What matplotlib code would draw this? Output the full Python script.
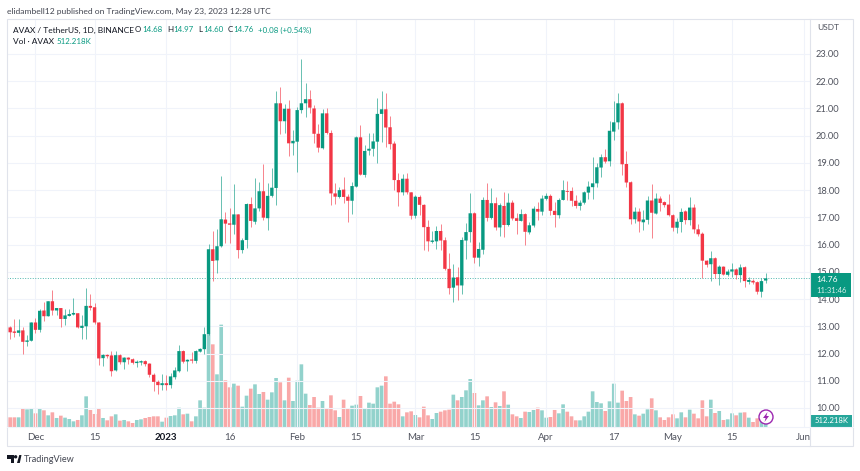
import matplotlib
matplotlib.use('Agg')
import matplotlib.pyplot as plt
import matplotlib.dates as mdates
from matplotlib.patches import Rectangle, Circle, Polygon
import numpy as np
import pandas as pd

plt.rcParams['font.family'] = ['Lato', 'DejaVu Sans']

opens = [12.96,12.81,12.76,12.85,12.43,12.47,13.14,12.87,13.58,13.37,
         13.92,13.58,13.67,13.27,13.38,13.43,13.48,12.94,13.0,13.75,
         13.7,13.14,11.83,11.95,11.93,11.38,11.94,11.68,11.85,11.79,
         11.65,11.67,11.72,11.63,11.22,10.96,10.84,10.91,10.84,11.13,
         11.35,12.09,11.71,11.78,11.73,12.07,12.16,12.71,15.83,15.42,
         15.94,16.92,16.78,16.73,17.11,15.8,16.17,17.49,16.84,17.33,
         17.96,16.97,17.79,18.08,21.19,20.53,20.99,19.72,19.78,20.94,
         21.19,21.34,21.0,20.07,19.54,20.82,20.1,17.88,17.75,18.02,
         17.76,17.61,18.13,19.94,18.56,19.45,19.52,19.78,20.8,20.97,
         20.31,19.71,18.37,17.92,18.42,17.92,17.06,17.75,17.46,16.65,
         16.1,16.12,16.5,16.16,15.11,14.42,14.8,14.5,16.15,16.46,
         17.15,15.52,15.81,17.64,16.98,17.52,16.63,17.42,16.72,17.54,
         16.97,16.87,17.12,16.45,16.7,17.31,17.21,17.68,17.79,17.24,
         17.08,17.64,17.97,17.97,17.61,17.42,17.54,17.91,18.11,18.25,
         18.83,19.21,19.06,20.15,20.49,21.19,18.96,18.29,16.93,17.21,
         16.82,16.91,17.62,17.14,17.69,17.56,17.47,17.08,16.62,16.83,
         17.22,16.9,17.36,16.56,16.4,15.41,15.28,15.5,14.92,15.19,
         14.89,15.01,15.09,14.88,15.17,14.63,14.67,14.62,14.27,14.68]

closes = [12.78,12.76,12.85,12.43,12.48,13.14,12.87,13.57,13.37,13.92,
          13.58,13.67,13.27,13.4,13.45,13.49,12.96,13.02,13.75,13.68,
          13.14,11.82,11.95,11.9,11.35,11.94,11.68,11.85,11.78,11.66,
          11.7,11.72,11.61,11.22,10.96,10.84,10.91,10.84,11.16,11.38,
          12.09,11.7,11.77,11.74,12.09,12.17,12.71,15.83,15.4,15.94,
          16.93,16.77,16.73,17.11,15.8,16.16,17.49,16.87,17.33,17.96,
          16.99,17.79,18.09,21.19,20.53,20.99,19.72,19.81,20.94,21.19,
          21.34,21.03,20.07,19.56,20.82,20.1,17.88,17.76,18.0,17.75,
          17.61,18.15,19.94,18.57,19.44,19.52,19.79,20.8,20.97,20.3,
          19.69,18.37,17.92,18.42,17.92,17.06,17.76,17.46,16.64,16.12,
          16.15,16.5,16.15,15.11,14.4,14.79,14.5,16.17,16.46,17.15,
          15.52,15.84,17.64,16.98,17.52,16.63,17.45,16.72,17.54,16.96,
          16.87,17.12,16.47,16.71,17.32,17.21,17.69,17.79,17.24,17.09,
          17.64,18.0,17.94,17.61,17.42,17.54,17.92,18.13,18.25,18.84,
          19.21,19.05,20.18,20.49,21.19,18.95,18.28,16.93,17.21,16.85,
          16.92,17.62,17.17,17.69,17.53,17.45,17.08,16.62,16.84,17.2,
          16.9,17.36,16.56,16.38,15.41,15.26,15.5,14.92,15.19,14.9,
          15.01,15.09,14.88,15.16,14.66,14.7,14.61,14.27,14.66,14.76]

highs = [13.0,13.25,13.26,12.98,12.67,13.16,13.32,13.65,13.9,13.92,
         14.33,13.69,13.69,13.62,13.62,14.05,13.49,13.41,14.4,14.19,
         13.87,13.15,12.0,12.0,12.1,12.1,12.0,11.88,11.88,11.82,
         11.78,11.78,11.78,11.66,11.29,11.02,11.23,11.2,11.27,11.51,
         12.3,12.12,11.81,12.06,12.12,12.21,12.98,16.04,16.49,16.59,
         18.53,17.19,17.33,18.21,17.14,16.25,17.54,17.76,18.46,18.31,
         18.96,18.28,18.8,21.65,21.8,21.16,21.31,20.21,21.07,22.8,
         21.95,21.68,21.13,20.43,20.97,21.03,20.21,18.25,18.1,18.5,
         17.86,18.31,19.99,20.39,19.66,20.09,20.09,21.37,21.65,21.56,
         20.72,19.81,18.62,18.59,18.64,17.93,17.83,17.82,17.49,16.9,
         16.5,16.68,16.76,16.27,15.68,15.28,15.19,16.27,16.79,17.91,
         17.18,16.08,17.76,18.25,18.07,17.76,17.54,17.92,17.89,17.64,
         17.15,17.3,17.15,16.82,17.4,17.58,17.83,17.89,17.86,17.58,
         17.7,18.38,18.35,18.13,17.83,17.62,17.97,18.32,19.21,18.99,
         19.33,19.52,20.54,21.28,21.56,21.22,19.44,18.32,17.37,17.34,
         17.27,17.78,18.24,17.91,17.78,17.61,17.85,17.12,16.96,17.35,
         17.27,17.73,17.49,16.74,16.48,15.45,15.76,15.53,15.25,15.21,
         15.09,15.34,15.15,15.28,15.21,14.82,14.73,14.65,14.79,14.97]

lows = [12.52,12.61,12.64,11.98,12.27,12.45,12.76,12.8,13.2,13.36,
        13.41,13.43,12.98,13.04,13.37,13.41,12.92,12.54,12.54,13.59,
        13.08,11.57,11.54,11.85,11.17,11.35,11.63,11.45,11.63,11.63,
        11.51,11.57,11.54,11.14,10.63,10.53,10.65,10.65,10.72,11.05,
        11.33,11.67,11.35,11.66,11.67,12.06,12.0,12.67,14.66,14.94,
        15.9,16.05,16.07,16.4,15.49,15.71,15.86,16.66,16.76,17.23,
        16.9,16.53,17.76,17.44,20.05,20.11,19.25,19.29,18.68,20.82,
        20.7,20.85,19.72,19.41,19.5,20.08,17.46,17.48,17.7,17.54,
        16.84,17.11,18.1,18.54,18.5,19.28,19.25,19.01,19.78,19.57,
        19.51,18.0,17.43,17.81,17.85,16.93,16.99,17.1,15.8,15.78,
        16.05,15.83,15.8,15.07,14.19,13.91,13.95,14.19,15.46,16.11,
        15.34,15.23,15.65,16.87,16.93,16.52,16.32,16.27,16.7,16.91,
        16.39,16.85,15.99,16.38,16.66,16.91,17.07,17.62,17.07,16.66,
        16.99,17.62,17.62,17.42,17.34,17.28,17.49,17.68,17.69,18.13,
        18.47,18.99,18.87,19.85,20.24,18.56,18.13,16.74,16.79,16.48,
        16.53,16.74,16.26,17.11,17.23,17.39,17.05,16.49,16.41,16.47,
        16.74,16.71,16.43,16.31,14.79,15.18,14.67,14.76,14.51,14.88,
        14.84,14.82,14.72,14.63,14.43,14.57,14.56,14.17,14.08,14.6]

# volume in thousands of AVAX
volumes = [826,826,826,1596,1510,1568,1168,1568,1425,998,
           1254,770,969,798,684,485,599,998,2622,1454,
           1112,1568,770,570,912,1083,542,599,485,342,
           599,656,770,855,912,912,456,798,940,998,
           1653,1083,1140,485,912,2280,1653,7923,7068,4503,
           8750,3990,3392,3705,3534,1739,2679,3278,3648,2822,
           2993,2337,2964,4190,3819,2280,4218,2223,3962,5358,
           2850,1881,2565,1653,2223,1568,2708,1425,855,2337,
           1596,1824,1910,2651,1596,2081,1995,3392,3534,4332,
           1995,2166,1938,912,1254,1340,1026,827,1739,998,
           684,1197,1311,1425,1482,2765,2280,2565,3135,4104,
           2907,1853,2280,2622,1710,2109,1796,3050,1910,1083,
           912,770,1311,1283,1454,1653,1425,798,855,1454,
           1169,1938,1311,912,570,570,912,1311,3050,2138,
           2024,1368,2195,3705,2081,3107,2223,2565,1083,969,
           1140,1511,2451,1425,827,599,827,1083,741,1254,
           827,1482,1140,741,2280,912,2337,1197,1368,599,
           656,1169,998,1226,1254,798,428,741,570,512]

first_day = '2022-11-25'
price_ticks = [10, 11, 12, 13, 14, 15, 16, 17, 18, 19, 20, 21, 22, 23]
time_ticks = ['2022-12-01', '2022-12-15', '2023-01-01', '2023-01-16', '2023-02-01', '2023-02-15',
              '2023-03-01', '2023-03-15', '2023-04-01', '2023-04-17', '2023-05-01', '2023-05-15', '2023-06-01']
time_labels = ['Dec', '15', '2023', '16', 'Feb', '15', 'Mar', '15', 'Apr', '17', 'May', '15', 'Jun']
last_close = 14.76

GREEN = '#089981'
RED = '#f23645'
VOL_GREEN = '#92d2cc'
VOL_RED = '#f9a8a8'
TEXT = '#131722'
GRID = '#f0f3fa'
W, H = 860, 471

dates = mdates.date2num(pd.date_range(first_day, periods=len(closes)))
opens, closes, highs, lows = map(np.array, (opens, closes, highs, lows))
up = closes >= opens

fig = plt.figure(figsize=(8.6, 4.71), dpi=100)
# chart pane runs from x=7 to x=810 and y=19 to y=427 in pixels
ax = fig.add_axes([7 / W, 1 - 427 / H, 803 / W, 408 / H])
ax.set_ylim(9.302, 24.285)
d0 = mdates.date2num(pd.Timestamp('2022-12-01'))
ax.set_xlim(d0 - 6.75, d0 + 183.5)

vol = ax.twinx()
vol.set_ylim(0, 34884)
vol.set_zorder(1)
ax.set_zorder(2)
ax.patch.set_alpha(0)
for rect in vol.bar(dates, volumes, width=0.86, color=[VOL_GREEN if u else VOL_RED for u in up], linewidth=0):
    rect.set_snap(False)
vol.axis('off')

colors = np.where(up, GREEN, RED)
ax.vlines(dates, lows, highs, colors=colors, linewidth=0.72, alpha=0.6, zorder=3)
bodies = ax.bar(dates, np.maximum(np.abs(closes - opens), 0.03), bottom=np.minimum(opens, closes),
                width=0.8, color=colors, linewidth=0, zorder=4)
for rect in bodies:
    rect.set_snap(False)
ax.axhline(last_close, color='#26a69a', linewidth=0.7, linestyle=(0, (1, 1.6)), alpha=0.8, zorder=2)

ax.set_yticks(price_ticks)
ax.set_xticks(mdates.date2num(pd.to_datetime(time_ticks)))
ax.set_xticklabels(time_labels)
ax.grid(True, color=GRID, linewidth=0.8)
ax.set_axisbelow(True)
ax.xaxis.set_tick_params(length=0, pad=4, labelsize=7, labelcolor='#50535e')
ax.yaxis.tick_right()
ax.yaxis.set_major_formatter(lambda v, pos: f'{v:.2f}')
ax.yaxis.set_tick_params(length=0, pad=4.3, labelsize=6.7, labelcolor='#50535e')
for s in ax.spines.values():
    s.set_visible(False)
ax.get_xticklabels()[2].set_fontweight('bold')
ax.get_xticklabels()[2].set_color(TEXT)

# everything outside the plot, in pixel coordinates
ov = fig.add_axes([0, 0, 1, 1], zorder=5)
ov.set_xlim(0, W)
ov.set_ylim(H, 0)
ov.axis('off')
ov.patch.set_alpha(0)
ov.add_patch(Rectangle((7, 19), 846, 427, fill=False, edgecolor='#e0e3eb', linewidth=0.8))
ov.plot([810, 810], [19, 446], color='#e0e3eb', linewidth=0.8)
ov.plot([7, 853], [427, 427], color='#f0f3fa', linewidth=0.8)

ov.text(7, 11, 'elidambell12 published on TradingView.com, May 23, 2023 12:28 UTC',
        fontsize=6.1, color='#434651', va='center')
ov.text(13, 30, 'AVAX / TetherUS, 1D, BINANCE', fontsize=6, color=TEXT, va='center')
for x, s, c in [(135, 'O', TEXT), (142, '14.68', GREEN), (167, 'H', TEXT), (173, '14.97', GREEN),
                (198, 'L', TEXT), (203, '14.60', GREEN), (228, 'C', TEXT), (233, '14.76', GREEN),
                (258, '+0.08 (+0.54%)', GREEN)]:
    ov.text(x, 30, s, fontsize=5.7, color=c, va='center')
ov.text(13, 42, 'Vol · AVAX', fontsize=6, color=TEXT, va='center')
ov.text(57, 42, '512.218K', fontsize=5.7, color=GREEN, va='center')
ov.text(817, 28, 'USDT', fontsize=6, color='#50535e', va='center')

ov.add_patch(Rectangle((810, 273), 41, 24, color=GREEN, linewidth=0))
ov.text(816, 279.5, '14.76', fontsize=6, color='white', va='center')
ov.text(816, 290.5, '11:31:46', fontsize=5.5, color='#d5efe9', va='center')
ov.add_patch(Rectangle((810, 415), 42, 12, color='#26a69a', linewidth=0))
ov.text(815, 420.8, '512.218K', fontsize=5.6, color='white', va='center')

ov.add_patch(Circle((766, 417), 7, facecolor='white', edgecolor='#9c27b0', linewidth=1))
ov.add_patch(Polygon([(767.5, 412), (763, 418), (765.6, 418), (764.5, 422), (769, 416), (766.4, 416)],
                     color='#9c27b0', linewidth=0))

# TradingView mark and name
ov.add_patch(Polygon([(7, 455), (14, 455), (14, 463), (10.5, 463), (10.5, 458.5), (7, 458.5)],
                     color='#131722', linewidth=0))
ov.add_patch(Circle((15.6, 456.8), 1.7, color='#131722', linewidth=0))
ov.add_patch(Polygon([(17, 463), (19.3, 455), (21.5, 455), (19.8, 463)], color='#131722', linewidth=0))
ov.text(24, 459.5, 'TradingView', fontsize=6.6, color='#434651', va='center')

fig.savefig('out.png', dpi=100)
